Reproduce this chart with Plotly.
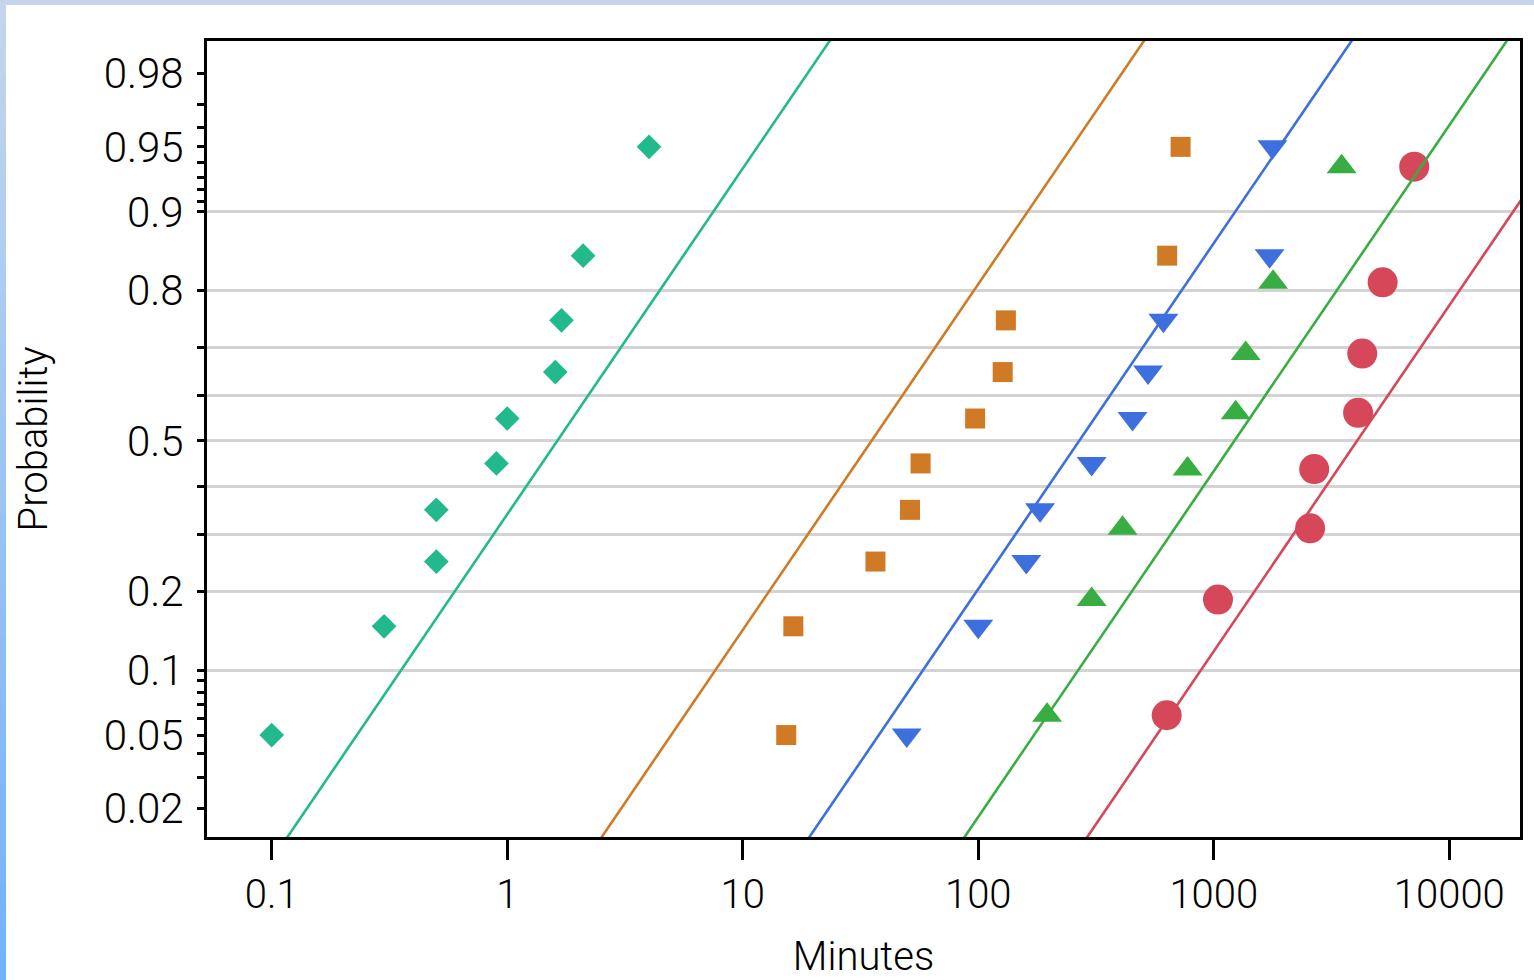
from statistics import NormalDist
import numpy as np
import plotly.graph_objects as go

# ---- observed failure times (minutes) and their plotting probabilities ----
teal_x = [0.1, 0.3, 0.5, 0.5, 0.9, 1.0, 1.6, 1.7, 2.1, 4.0]
teal_p = [0.05, 0.15, 0.25, 0.35, 0.45, 0.55, 0.65, 0.75, 0.85, 0.95]

orange_x = [15.3, 16.4, 36.6, 51.3, 56.9, 97, 127, 131, 634, 723]
orange_p = [0.05, 0.15, 0.25, 0.35, 0.45, 0.55, 0.65, 0.75, 0.85, 0.95]

blue_x = [49.7, 100, 160, 183, 303, 452, 526, 611, 1726, 1775]
blue_p = [0.05, 0.15, 0.25, 0.35, 0.45, 0.55, 0.65, 0.75, 0.85, 0.95]

green_x = [196, 303, 410, 774, 1239, 1366, 1786, 3490]
green_p = [0.0625, 0.1875, 0.3125, 0.4375, 0.5625, 0.6875, 0.8125, 0.9375]

red_x = [631, 1042, 2564, 2669, 4100, 4270, 5212, 7096]
red_p = [0.0625, 0.1875, 0.3125, 0.4375, 0.5625, 0.6875, 0.8125, 0.9375]

# fitted lognormal lines: median (minutes) and spread (decades per std. normal unit)
fit_median = [1.63, 35.2, 268, 1222, 4055]
fit_spread = [0.517, 0.517, 0.517, 0.517, 0.517]

# ---- axis tick definitions ----
x_tick_vals = [0.1, 1, 10, 100, 1000, 10000]
x_tick_text = ["0.1", "1", "10", "100", "1000", "10000"]

y_tick_probs = [0.02, 0.03, 0.04, 0.05, 0.06, 0.07, 0.08, 0.09,
                0.1, 0.2, 0.3, 0.4, 0.5, 0.6, 0.7, 0.8, 0.9,
                0.91, 0.92, 0.93, 0.94, 0.95, 0.96, 0.97, 0.98]
y_labeled = {0.02: "0.02", 0.05: "0.05", 0.1: "0.1", 0.2: "0.2", 0.5: "0.5",
             0.8: "0.8", 0.9: "0.9", 0.95: "0.95", 0.98: "0.98"}
grid_probs = [0.1, 0.2, 0.3, 0.4, 0.5, 0.6, 0.7, 0.8, 0.9]

# ---- styling ----
series = [
    (teal_x, teal_p, "#22b98c", "diamond", 19),
    (orange_x, orange_p, "#d17a25", "square", 20),
    (blue_x, blue_p, "#3d6fde", "triangle-down", 26),
    (green_x, green_p, "#38ae42", "triangle-up", 26),
    (red_x, red_p, "#d6475a", "circle", 30),
]

nd = NormalDist()


def zq(p):
    """Standard normal quantile: the probability-paper coordinate."""
    return nd.inv_cdf(p)


Y_RANGE = [-2.215, 2.237]
X_RANGE = [-1.2747, 4.3002]

fig = go.Figure()

for xs, ps, color, symbol, size in series:
    fig.add_trace(go.Scatter(
        x=xs, y=[zq(p) for p in ps], mode="markers",
        marker=dict(symbol=symbol, size=size, color=color, line=dict(width=0)),
        showlegend=False, hoverinfo="skip",
    ))

# fitted lines drawn on an overlay axis (same scale) so they sit above the markers
z_ends = np.array([-2.6, 2.6])
for (xs, ps, color, symbol, size), med, s in zip(series, fit_median, fit_spread):
    fig.add_trace(go.Scatter(
        x=med * 10 ** (s * z_ends), y=z_ends, mode="lines",
        line=dict(color=color, width=2.6),
        xaxis="x", yaxis="y2", showlegend=False, hoverinfo="skip",
    ))

FONT = dict(family="Roboto, Liberation Sans, Arial", size=40, color="#000000", weight=300)
YTICK_FONT = dict(family="Roboto, Liberation Sans, Arial", size=42, color="#000000", weight=300)

fig.update_layout(
    width=1534, height=980,
    margin=dict(l=207, r=14, t=41, b=143, pad=0),
    paper_bgcolor="white", plot_bgcolor="white",
    font=FONT,
    xaxis=dict(
        type="log", range=X_RANGE,
        tickmode="array", tickvals=x_tick_vals, ticktext=x_tick_text,
        ticks="outside", ticklen=20, tickwidth=3, tickcolor="black",
        showline=True, linecolor="black", linewidth=3, mirror=True,
        showgrid=False, zeroline=False, tickfont=FONT,
        title=dict(text="Minutes", font=FONT, standoff=26),
        automargin=False,
    ),
    yaxis=dict(
        range=Y_RANGE,
        tickmode="array", tickvals=[zq(p) for p in y_tick_probs],
        ticktext=[y_labeled.get(p, "") for p in y_tick_probs],
        ticks="outside", ticklen=7, tickwidth=3, tickcolor="black",
        ticklabelstandoff=5,
        showline=True, linecolor="black", linewidth=3, mirror=True,
        showgrid=False, zeroline=False, tickfont=YTICK_FONT,
        title=dict(text="Probability", font=FONT, standoff=44),
        automargin=False,
    ),
    yaxis2=dict(
        range=Y_RANGE, overlaying="y", anchor="x", side="left",
        tickmode="array", tickvals=[zq(p) for p in grid_probs],
        showgrid=True, gridcolor="#d3d3d3", gridwidth=3,
        showticklabels=False, ticks="", showline=False, zeroline=False,
    ),
)

# window frame: pale strip along the top and a blue gradient strip on the left
PLOT_L, PLOT_W = 207, 1534 - 207 - 14
PLOT_T, PLOT_H = 41, 980 - 41 - 143


def px_x(px):
    return (px - PLOT_L) / PLOT_W


def px_y(py):
    return 1 - (py - PLOT_T) / PLOT_H


fig.add_shape(type="rect", xref="paper", yref="paper",
              x0=px_x(0), x1=px_x(1534), y0=px_y(0), y1=px_y(5),
              fillcolor="#c5d6ec", line=dict(width=0), layer="above")

top_rgb = np.array([197, 215, 236])
bot_rgb = np.array([112, 178, 252])
n_seg = 40
for i in range(n_seg):
    t = (i + 0.5) / n_seg
    r, g, b = (top_rgb + (bot_rgb - top_rgb) * t).astype(int)
    y0 = i * 980 / n_seg
    y1 = (i + 1) * 980 / n_seg + 0.5
    fig.add_shape(type="rect", xref="paper", yref="paper",
                  x0=px_x(0), x1=px_x(6), y0=px_y(y0), y1=px_y(y1),
                  fillcolor=f"rgb({r},{g},{b})", line=dict(width=0), layer="above")

fig.write_html("out.html")
